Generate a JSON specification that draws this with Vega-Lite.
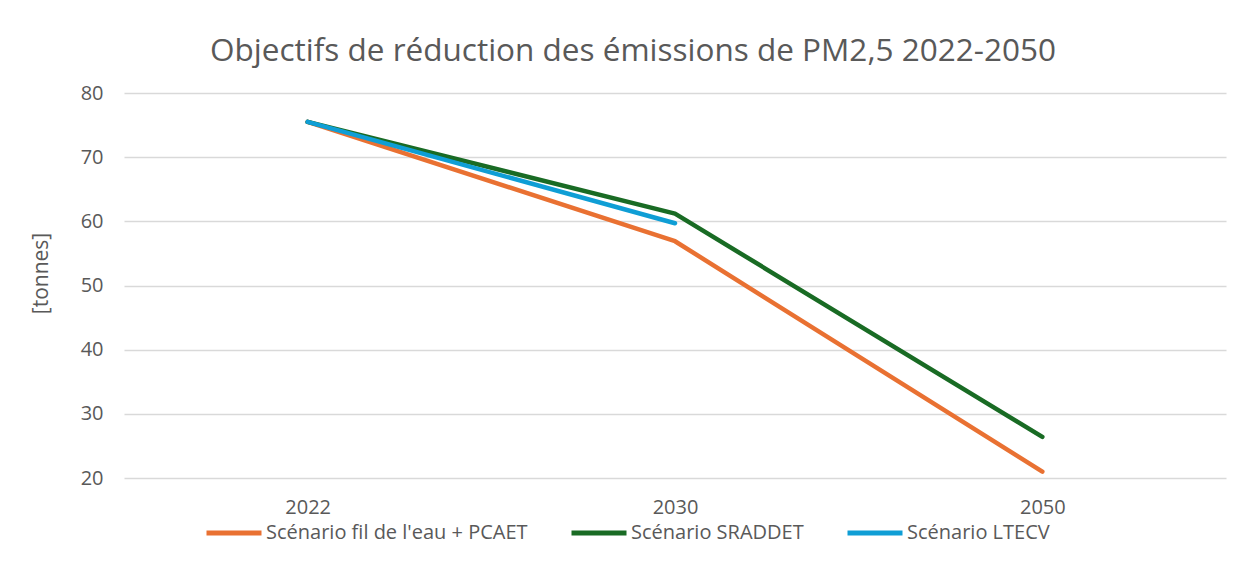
{
  "$schema": "https://vega.github.io/schema/vega-lite/v6.json",
  "autosize": {"type": "none"},
  "width": 1102,
  "height": 385,
  "padding": {"left": 124, "top": 93, "right": 17, "bottom": 84},
  "background": "white",
  "title": {
    "text": "Objectifs de réduction des émissions de PM2,5 2022-2050",
    "font": "Open Sans",
    "fontSize": 31.5,
    "fontWeight": "normal",
    "color": "#595959",
    "anchor": "middle",
    "dx": -42,
    "offset": 16
  },
  "data": {
    "values": [
      {"year": "2022", "scenario": "Scénario fil de l'eau + PCAET", "value": 75.5},
      {"year": "2030", "scenario": "Scénario fil de l'eau + PCAET", "value": 56.9},
      {"year": "2050", "scenario": "Scénario fil de l'eau + PCAET", "value": 21.0},
      {"year": "2022", "scenario": "Scénario SRADDET", "value": 75.5},
      {"year": "2030", "scenario": "Scénario SRADDET", "value": 61.2},
      {"year": "2050", "scenario": "Scénario SRADDET", "value": 26.4},
      {"year": "2022", "scenario": "Scénario LTECV", "value": 75.5},
      {"year": "2030", "scenario": "Scénario LTECV", "value": 59.7}
    ]
  },
  "mark": {"type": "line", "strokeWidth": 4.5, "strokeCap": "round", "strokeJoin": "round"},
  "encoding": {
    "x": {
      "field": "year",
      "type": "ordinal",
      "scale": {"type": "point", "padding": 0.5},
      "axis": {
        "title": null,
        "labelAngle": 0,
        "domain": false,
        "ticks": false,
        "grid": false,
        "labelPadding": 19,
        "labelFontSize": 20,
        "labelFont": "Open Sans",
        "labelColor": "#595959"
      }
    },
    "y": {
      "field": "value",
      "type": "quantitative",
      "scale": {"domain": [20, 80], "nice": false, "zero": false},
      "axis": {
        "title": "[tonnes]",
        "titleFont": "Open Sans",
        "titleFontSize": 21,
        "titleFontWeight": "normal",
        "titleColor": "#595959",
        "titleX": -83,
        "titleY": 180,
        "titleAngle": -90,
        "titleAlign": "center",
        "titleBaseline": "middle",
        "values": [20, 30, 40, 50, 60, 70, 80],
        "domain": false,
        "ticks": false,
        "labelPadding": 21,
        "labelFontSize": 20,
        "labelFont": "Open Sans",
        "labelColor": "#595959",
        "gridColor": "#d9d9d9",
        "gridWidth": 1.5
      }
    },
    "color": {
      "field": "scenario",
      "type": "nominal",
      "sort": null,
      "scale": {
        "domain": ["Scénario fil de l'eau + PCAET", "Scénario SRADDET", "Scénario LTECV"],
        "range": ["#E97132", "#196B24", "#0F9ED5"]
      },
      "legend": {
        "title": null,
        "orient": "none",
        "direction": "horizontal",
        "legendX": 80,
        "legendY": 410,
        "symbolType": "stroke",
        "symbolSize": 3025,
        "symbolStrokeWidth": 5,
        "labelFont": "Open Sans",
        "labelFontSize": 20,
        "labelLimit": 0,
        "labelColor": "#595959",
        "labelOffset": 2,
        "columnPadding": 33
      }
    }
  },
  "config": {
    "view": {"stroke": null}
  }
}
